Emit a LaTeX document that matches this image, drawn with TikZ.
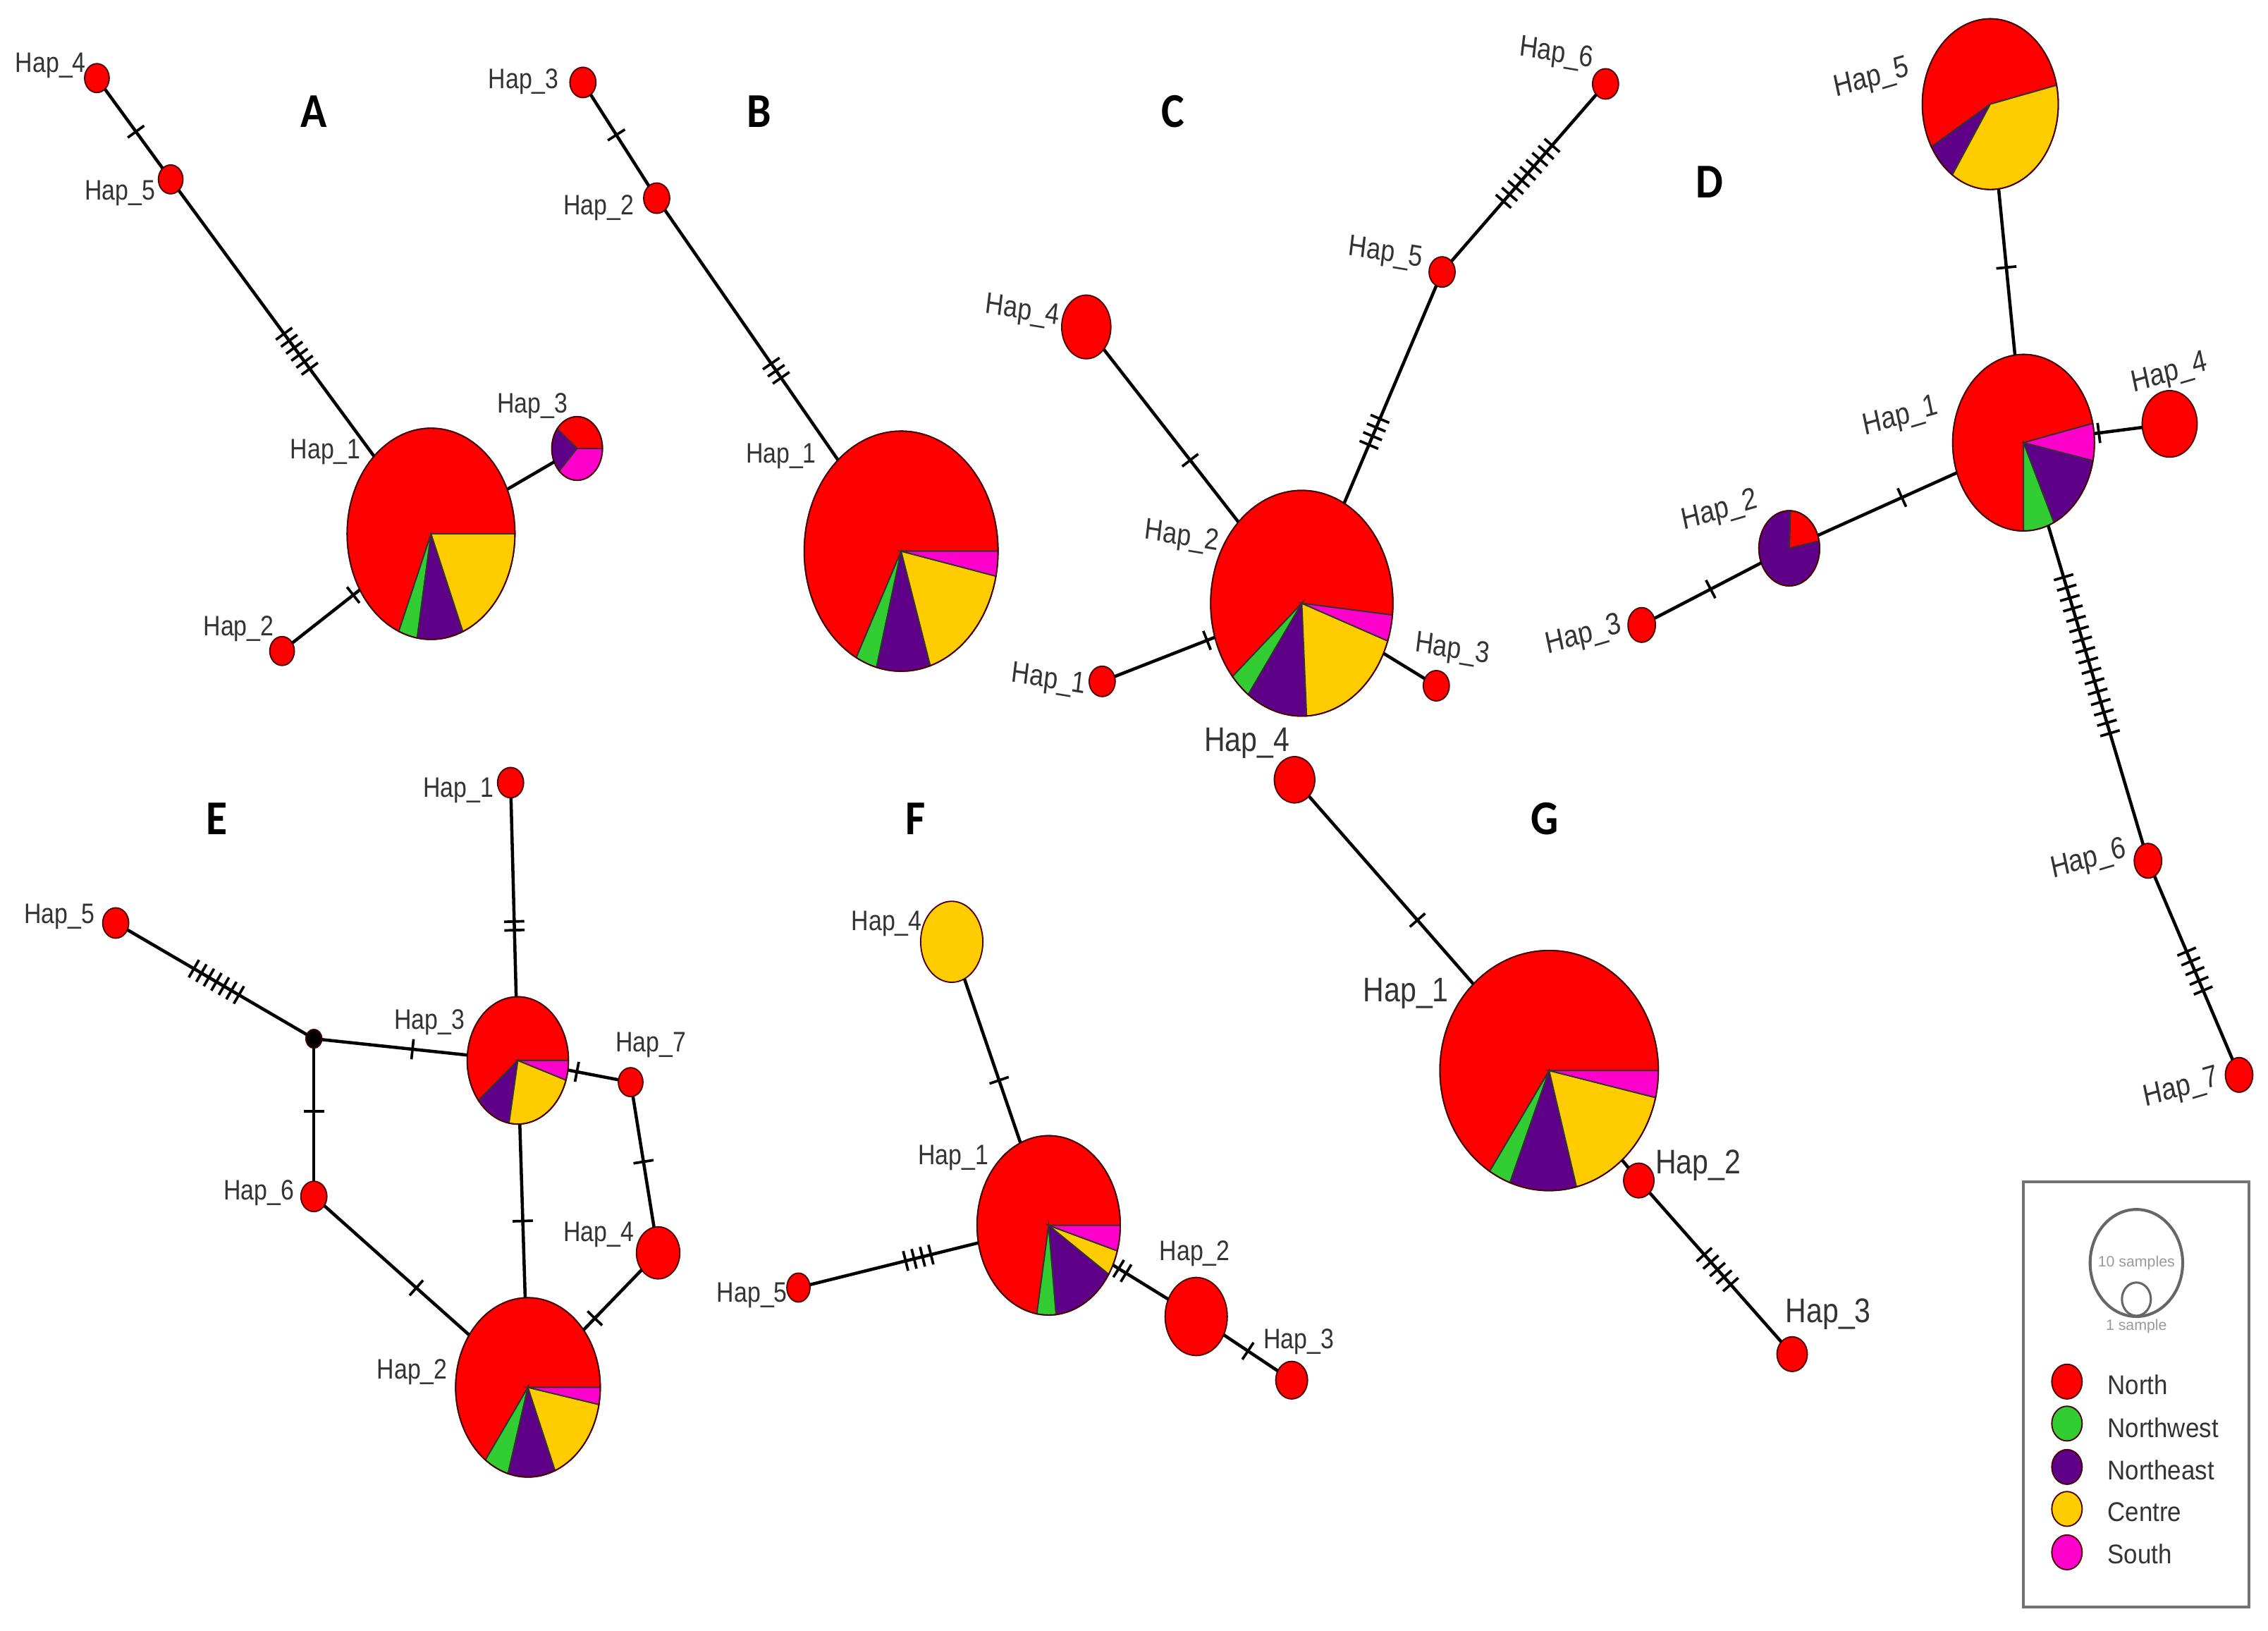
\documentclass[tikz,border=0pt]{standalone}
\usepackage{fontspec}
\setmainfont{Liberation Sans}
\newfontfamily\titlefont{Carlito}
\usetikzlibrary{calc,shapes.geometric}
\definecolor{hred}{HTML}{FF0000}
\definecolor{hgreen}{HTML}{32CD32}
\definecolor{hpurple}{HTML}{5F0088}
\definecolor{hyellow}{HTML}{FFCC00}
\definecolor{hmagenta}{HTML}{FF00CC}
\definecolor{labgrey}{HTML}{333333}
\tikzset{
  hapshape/.style={ellipse,draw=black!70!red,line width=0.9pt,inner sep=0pt,outer sep=0pt},
  slice/.style={draw=black!80,line width=0.9pt},
  link/.style={draw=black,line width=2.2pt},
  tickmark/.style={draw=black,line width=1.8pt},
  haplab/.style={text=labgrey,inner sep=0pt,font=\fontsize{16.5}{16.5}\selectfont,yscale=1.18,transform shape},
  paneltitle/.style={inner sep=0pt,font=\titlefont\bfseries\fontsize{30}{30}\selectfont,yscale=1.12,transform shape},
  legtext/.style={text=labgrey,anchor=west,inner sep=0pt,font=\fontsize{17}{17}\selectfont,yscale=1.1,transform shape},
}
\newcommand\hapnode[6]{% name cx cy rx ry colour
  \node[hapshape,fill=#6,minimum width={2*#4},minimum height={2*#5}] (#1) at (#2,{1127-#3}) {};}
\newcommand\pienode[6]{% name cx cy rx ry slices
  \foreach \sa/\sb/\sc in {#6}{
    \filldraw[slice,fill=\sc] (#2,{1127-#3}) -- ++({#4*cos(\sa)},{#5*sin(\sa)})
      arc[start angle=\sa,end angle=\sb,x radius=#4,y radius=#5] -- cycle;}
  \node[hapshape,minimum width={2*#4},minimum height={2*#5}] (#1) at (#2,{1127-#3}) {};}
\newcommand\hlab[4]{\node[haplab] (#1) at (#2,{1127-#3-1.5}) {Hap\_#4};}
\newcommand\ptitle[4]{\node[paneltitle] (#1) at ({#2+1},{1127-#3}) {#4};}
% connector: a, b, tick x, tick y, tick count, tick gap
\newcommand\conn[6]{%
  \draw[link] (#1) -- (#2);
  \coordinate (tc) at ($(#1.center)!(#3,{1127-#4})!(#2.center)$);
  \foreach \ti in {1,...,#5}{
    \pgfmathsetlengthmacro\toff{(\ti-(#5+1)/2)*#6}
    \coordinate (tp) at ($(tc)!\toff!(#2.center)$);
    \draw[tickmark] ($(tp)!7pt!90:(#2.center)$) -- ($(tp)!7pt!-90:(#2.center)$);
  }}
\newcommand\plain[2]{\draw[link] (#1) -- (#2);}
\begin{document}
\begin{tikzpicture}[x=1pt,y=1pt]
\useasboundingbox (0,0) rectangle (1568,1127);
% ---------- A
\ptitle{ta}{216}{77}{A}
\hapnode{a4}{67}{54}{8.5}{10}{hred}
\hapnode{a5}{118}{124}{8.5}{10}{hred}
\hapnode{a2}{195}{450}{8.5}{10}{hred}
\pienode{a1}{298}{369}{58}{73}{0/247.4/hred,247.4/260.5/hgreen,260.5/292.3/hpurple,292.3/360/hyellow}
\pienode{a3}{399}{310}{17.5}{22}{0/142/hred,142/225/hpurple,225/360/hmagenta}
\conn{a4}{a5}{94}{91}{1}{5}
\conn{a5}{a1}{205}{243}{6}{6}
\plain{a1}{a3}
\conn{a1}{a2}{244}{411}{1}{5}
\hlab{a4l}{35}{44}{4}\hlab{a5l}{83}{132}{5}\hlab{a1l}{225}{311}{1}\hlab{a3l}{368}{279}{3}\hlab{a2l}{165}{433}{2}
% ---------- B
\ptitle{tb}{524}{77}{B}
\hapnode{b3}{403}{57}{9}{10.5}{hred}
\hapnode{b2}{454}{137}{9}{10.5}{hred}
\pienode{b1}{623}{381}{67}{83}{0/242.4/hred,242.4/255.3/hgreen,255.3/287.5/hpurple,287.5/348/hyellow,348/360/hmagenta}
\conn{b3}{b2}{425}{94}{1}{5}
\conn{b2}{b1}{537}{256}{3}{6}
\hlab{b3l}{362}{55}{3}\hlab{b2l}{414}{142}{2}\hlab{b1l}{540}{314}{1}
% ---------- C
\begin{scope}[haplab/.append style={rotate=-8,font=\fontsize{17.5}{17.5}\selectfont}]
\ptitle{tc}{810}{77}{C}
\hapnode{c4}{751}{226}{17}{22}{hred}
\hapnode{c5}{997}{188}{9}{10.5}{hred}
\hapnode{c6}{1110}{58}{9}{10.5}{hred}
\hapnode{c1}{762}{471}{9}{10.5}{hred}
\hapnode{c3}{993}{474}{9}{10.5}{hred}
\pienode{c2}{900}{417}{63}{78}{-6/220.5/hred,220.5/234/hgreen,234/273/hpurple,273/340.5/hyellow,340.5/354/hmagenta}
\conn{c4}{c2}{823}{318}{1}{5}
\conn{c5}{c2}{949}{298}{4}{6.5}
\conn{c6}{c5}{1055.7}{119.4}{9}{6.4}
\conn{c1}{c2}{835}{444}{1}{5}
\plain{c3}{c2}
\hlab{c4l}{707}{214}{4}\hlab{c5l}{958}{174}{5}\hlab{c6l}{1076}{36}{6}\hlab{c1l}{725}{469}{1}\hlab{c3l}{1004}{448}{3}\hlab{c2l}{817}{370}{2}
\end{scope}
% ---------- D
\begin{scope}[haplab/.append style={rotate=14,font=\fontsize{18}{18}\selectfont}]
\ptitle{td}{1181}{126}{D}
\pienode{d1}{1399}{306}{49}{61}{12.6/270/hred,270/295.4/hgreen,295.4/348.3/hpurple,348.3/372.6/hmagenta}
\pienode{d5}{1376}{72}{47}{59}{12.8/210/hred,210/236/hpurple,236/372.8/hyellow}
\pienode{d2}{1237}{379}{21}{26}{11/88/hred,88/371/hpurple}
\hapnode{d4}{1500}{293}{19}{23}{hred}
\hapnode{d3}{1135}{432}{9.5}{12}{hred}
\hapnode{d6}{1485}{595}{9.5}{12}{hred}
\hapnode{d7}{1548}{743}{9.5}{12}{hred}
\conn{d5}{d1}{1386}{185}{1}{5}
\conn{d1}{d4}{1451}{299}{1}{5}
\conn{d1}{d2}{1314}{342}{1}{5}
\conn{d2}{d3}{1182}{406}{1}{5}
\conn{d1}{d6}{1442.5}{453}{16}{7.5}
\conn{d6}{d7}{1518}{671}{5}{7.3}
\hlab{d5l}{1294}{53}{5}\hlab{d1l}{1314}{287}{1}\hlab{d4l}{1500}{257}{4}\hlab{d2l}{1189}{352}{2}\hlab{d3l}{1095}{438}{3}\hlab{d6l}{1444}{593}{6}\hlab{d7l}{1508}{751}{7}
\end{scope}
% ---------- E
\ptitle{te}{149}{566}{E}
\hapnode{e1}{353}{541}{9}{10.5}{hred}
\hapnode{e5}{80}{638}{9}{10.5}{hred}
\hapnode{e7}{436}{748}{8.5}{10}{hred}
\hapnode{e4}{455}{866}{15}{18}{hred}
\hapnode{e6}{217}{827}{9}{10.5}{hred}
\hapnode{e0}{217}{718}{5.5}{6.5}{black}
\pienode{e3}{358}{733}{35}{44}{0/219/hred,219/260/hpurple,260/342/hyellow,342/360/hmagenta}
\pienode{e2}{365}{959}{50}{62}{0/234/hred,234/254/hgreen,254/292/hpurple,292/349/hyellow,349/360/hmagenta}
\conn{e1}{e3}{355}{640}{2}{6}
\conn{e5}{e0}{150}{678}{7}{6}
\conn{e0}{e3}{285}{727}{1}{5}
\conn{e0}{e6}{217}{768}{1}{5}
\conn{e3}{e7}{399}{740}{1}{5}
\conn{e7}{e4}{445}{803}{1}{5}
\conn{e3}{e2}{361}{844}{1}{5}
\conn{e6}{e2}{288}{890}{1}{5}
\conn{e4}{e2}{411}{911}{1}{5}
\hlab{e1l}{317}{545}{1}\hlab{e5l}{41}{632}{5}\hlab{e3l}{297}{705}{3}\hlab{e7l}{450}{721}{7}\hlab{e4l}{414}{852}{4}\hlab{e6l}{179}{823}{6}\hlab{e2l}{285}{947}{2}
% ---------- F
\ptitle{tf}{632}{566}{F}
\hapnode{f4}{658}{651}{21.5}{28}{hyellow}
\hapnode{f5}{552}{890}{8}{10}{hred}
\hapnode{f2}{827}{910}{21.5}{27}{hred}
\hapnode{f3}{893}{954}{11}{13}{hred}
\pienode{f1}{725}{847}{49.5}{62}{0/260.5/hred,260.5/276/hgreen,276/327/hpurple,327/343.5/hyellow,343.5/360/hmagenta}
\conn{f4}{f1}{690}{747}{1}{5}
\conn{f5}{f1}{635}{870}{4}{6}
\conn{f1}{f2}{775}{880}{2}{6}
\conn{f2}{f3}{862}{935}{1}{5}
\hlab{f4l}{613}{637}{4}\hlab{f1l}{659}{799}{1}\hlab{f5l}{520}{894}{5}\hlab{f2l}{826}{865}{2}\hlab{f3l}{898}{926}{3}
% ---------- G
\begin{scope}[haplab/.append style={font=\fontsize{20}{20}\selectfont}]
\ptitle{tg}{1067}{566}{G}
\hapnode{g4}{895}{539}{14}{16}{hred}
\hapnode{g2}{1133}{816}{10.5}{12}{hred}
\hapnode{g3}{1239}{936}{10.5}{12}{hred}
\pienode{g1}{1071}{740}{75.5}{83}{0/237/hred,237/249/hgreen,249/284.5/hpurple,284.5/347/hyellow,347/360/hmagenta}
\conn{g4}{g1}{980}{636}{1}{5}
\plain{g1}{g2}
\conn{g2}{g3}{1188}{877}{5}{6.9}
\hlab{g4l}{862}{512}{4}\hlab{g1l}{972}{685}{1}\hlab{g2l}{1174}{804}{2}\hlab{g3l}{1264}{907}{3}
\end{scope}
% ---------- legend
\node[draw=black!55,line width=2pt,minimum width=156,minimum height=294,inner sep=0pt,outer sep=0pt] (legbox) at (1477,{1127-964}) {};
\node[ellipse,draw=black!60,line width=2pt,minimum width=64,minimum height=74,inner sep=0pt] (big) at (1477,{1127-873}) {};
\node[ellipse,draw=black!60,fill=white,line width=1.5pt,minimum width=20,minimum height=23,inner sep=0pt] (small) at (1477,{1127-898}) {};
\node[text=black!40,inner sep=0pt,font=\fontsize{10.4}{10.4}\selectfont] (ten) at (1477,{1127-873}) {10 samples};
\node[text=black!40,inner sep=0pt,font=\fontsize{10.4}{10.4}\selectfont] (one) at (1477,{1127-917}) {1 sample};
\hapnode{l1}{1429}{955}{10.5}{12}{hred}
\hapnode{l2}{1429}{984}{10.5}{12}{hgreen}
\hapnode{l3}{1429}{1014}{10.5}{12}{hpurple}
\hapnode{l4}{1429}{1043}{10.5}{12}{hyellow}
\hapnode{l5}{1429}{1073}{10.5}{12}{hmagenta}
\node[legtext] (t1) at (1457,{1127-957}) {North};
\node[legtext] (t2) at (1457,{1127-987}) {Northwest};
\node[legtext] (t3) at (1457,{1127-1016}) {Northeast};
\node[legtext] (t4) at (1457,{1127-1045}) {Centre};
\node[legtext] (t5) at (1457,{1127-1074}) {South};
\end{tikzpicture}
\end{document}
